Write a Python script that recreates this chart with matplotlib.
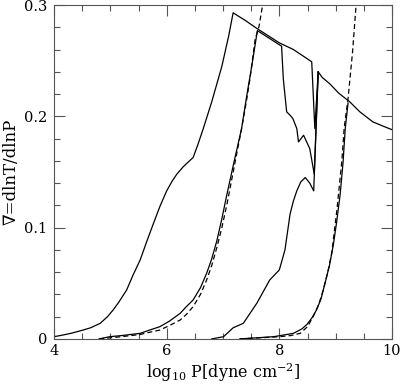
import matplotlib
matplotlib.use("Agg")
import matplotlib.pyplot as plt
from matplotlib.ticker import MultipleLocator

plt.rcParams['font.family'] = ['DejaVu Serif']
plt.rcParams['mathtext.fontset'] = 'dejavuserif'

# leftmost solid curve, runs all the way to log P = 10
c1_x = [4.0, 4.11, 4.3, 4.52, 4.65, 4.82, 4.95, 5.05, 5.15, 5.29, 5.4, 5.53,
        5.65, 5.76, 5.88, 6.0, 6.1, 6.18, 6.3, 6.47, 6.55, 6.65,
        6.8, 6.98, 7.1, 7.18, 7.4, 7.6, 8.0, 8.25, 8.575, 8.63, 8.69, 8.76,
        8.9, 9.05, 9.25, 9.43, 9.66, 9.85, 10.0]
c1_y = [0.002, 0.003, 0.005, 0.008, 0.010, 0.014, 0.020, 0.026, 0.033, 0.044,
        0.057, 0.071, 0.088, 0.103, 0.119, 0.133, 0.142, 0.148, 0.155, 0.163,
        0.174, 0.189, 0.213, 0.245, 0.272, 0.293, 0.286, 0.279, 0.266, 0.260,
        0.249, 0.189, 0.240, 0.235, 0.229, 0.221, 0.213, 0.204, 0.195, 0.191,
        0.188]

# second solid curve
c2_x = [4.8, 4.99, 5.2, 5.53, 5.7, 5.88, 6.05, 6.24, 6.35, 6.47, 6.6, 6.71,
        6.8, 6.89, 6.98, 7.07, 7.2, 7.33, 7.42, 7.51, 7.61,
        8.04, 8.07, 8.13, 8.19, 8.24, 8.31, 8.34, 8.43, 8.54, 8.62, 8.69]
c2_y = [0.0, 0.002, 0.003, 0.005, 0.008, 0.011, 0.016, 0.023, 0.029, 0.035,
        0.046, 0.059, 0.072, 0.088, 0.108, 0.130, 0.160, 0.189, 0.218, 0.245,
        0.277, 0.263, 0.234, 0.204, 0.201, 0.198, 0.189, 0.177, 0.183, 0.171,
        0.148, 0.240]

# third solid curve
c3_x = [6.8, 7.01, 7.18, 7.36, 7.6, 7.83, 8.0, 8.1, 8.19, 8.25, 8.31, 8.38,
        8.46, 8.54, 8.61, 8.69]
c3_y = [0.0, 0.002, 0.010, 0.014, 0.032, 0.053, 0.062, 0.080, 0.112, 0.124,
        0.133, 0.141, 0.145, 0.140, 0.133, 0.240]

# fourth solid curve
c4_x = [7.3, 7.9, 8.25, 8.4, 8.49, 8.58, 8.66, 8.74, 8.81, 8.89, 8.96, 9.02,
        9.08, 9.13, 9.17, 9.22]
c4_y = [0.0, 0.002, 0.005, 0.009, 0.013, 0.019, 0.026, 0.036, 0.050, 0.066,
        0.085, 0.106, 0.130, 0.158, 0.189, 0.212]

# dashed curves
d1_x = [4.8, 5.2, 5.53, 5.7, 5.88, 6.05, 6.24, 6.35, 6.47, 6.6, 6.71, 6.8,
        6.89, 6.98, 7.07, 7.2, 7.33, 7.42, 7.48, 7.57, 7.64, 7.72]
d1_y = [0.0, 0.002, 0.004, 0.006, 0.008, 0.012, 0.017, 0.022, 0.029, 0.040,
        0.053, 0.066, 0.082, 0.100, 0.121, 0.155, 0.189, 0.215, 0.234, 0.269,
        0.281, 0.305]

d2_x = [7.3, 8.01, 8.2, 8.37, 8.5, 8.6, 8.7, 8.78, 8.86, 8.93, 9.02, 9.11,
        9.15, 9.22, 9.3, 9.37]
d2_y = [0.0, 0.002, 0.003, 0.005, 0.011, 0.020, 0.031, 0.044, 0.060, 0.077,
        0.115, 0.160, 0.189, 0.216, 0.258, 0.305]

fig = plt.figure(figsize=(4.0, 3.86), dpi=100)
ax = fig.add_axes([0.135, 0.122, 0.845, 0.865])

lw = 0.9
for xs, ys in [(c1_x, c1_y), (c2_x, c2_y), (c3_x, c3_y), (c4_x, c4_y)]:
    ax.plot(xs, ys, color='black', lw=lw)
for xs, ys in [(d1_x, d1_y), (d2_x, d2_y)]:
    ax.plot(xs, ys, color='black', lw=lw, ls=(0, (4, 2.5)))

ax.set_xlim(4, 10)
ax.set_ylim(0, 0.3)
ax.xaxis.set_minor_locator(MultipleLocator(0.5))
ax.yaxis.set_minor_locator(MultipleLocator(0.02))
ax.set_yticks([0, 0.1, 0.2, 0.3])
ax.set_yticklabels(['0', '0.1', '0.2', '0.3'])
ax.set_xticks([4, 6, 8, 10])
ax.set_xticklabels(['4', '6', '8', '10'])
ax.tick_params(which='both', direction='in', top=True, right=True,
               labelsize=10.5, width=0.8, color='#555555')
ax.tick_params(which='major', length=8, pad=5)
ax.tick_params(axis='x', which='major', pad=4)
ax.tick_params(which='minor', length=4)
for s in ax.spines.values():
    s.set_linewidth(0.8)
    s.set_color('#555555')

fig.text(0.5575, 0.004, r'log$_{10}$ P[dyne cm$^{-2}$]', fontsize=11.5,
         ha='center', va='bottom')
ax.set_ylabel('\u2207=dlnT/dlnP', fontsize=12, labelpad=3)

fig.savefig('out.png', dpi=100)
